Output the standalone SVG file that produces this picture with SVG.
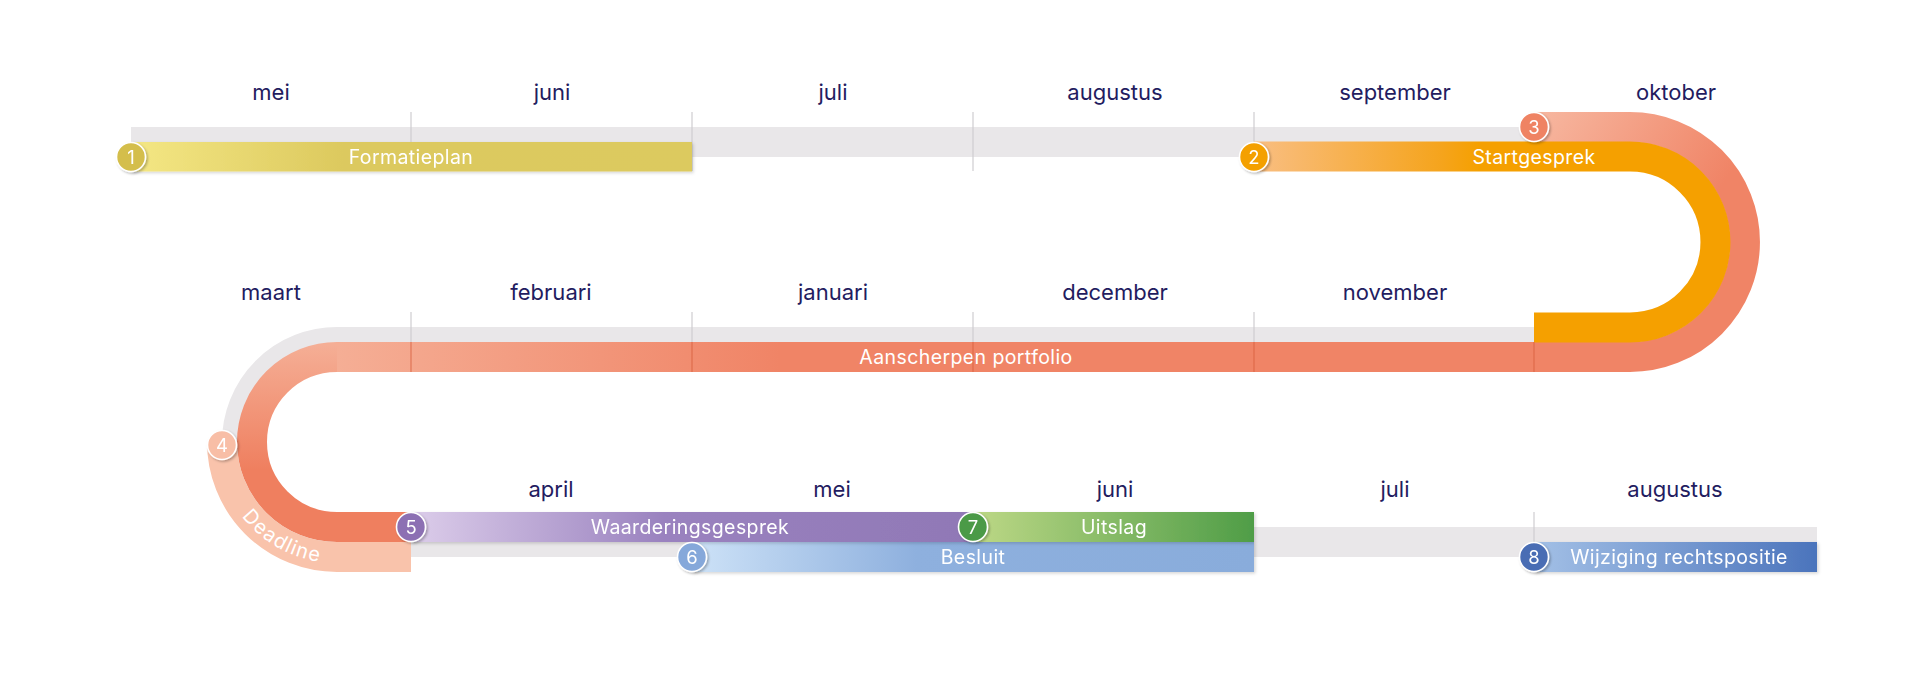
<svg xmlns="http://www.w3.org/2000/svg" width="1920" height="679" viewBox="0 0 1920 679">
<style>
.month{font-family:Inter,"Noto Sans","Liberation Sans",sans-serif;font-size:22px;fill:#231c5f;text-anchor:middle}
.lbl{font-family:Inter,"Noto Sans","Liberation Sans",sans-serif;font-size:19.5px;letter-spacing:0.4px;fill:#ffffff;text-anchor:middle}
.num{font-family:Inter,"Noto Sans","Liberation Sans",sans-serif;font-size:18.5px;fill:#ffffff;text-anchor:middle}
.tick{stroke:#cfcdd0;stroke-width:1.2}
.tickr{stroke:#d9603f;stroke-width:1.2;opacity:.7}
.band{fill:none;stroke-width:30;stroke-linecap:butt}
.dot{stroke:#ffffff;stroke-width:1.6}
</style>
<defs>
<filter id="sh" x="-10%" y="-50%" width="120%" height="200%">
<feDropShadow dx="1.5" dy="1.5" stdDeviation="1.5" flood-color="#000" flood-opacity="0.16"/>
</filter>
<filter id="csh" x="-50%" y="-50%" width="200%" height="200%">
<feDropShadow dx="1.5" dy="1.5" stdDeviation="1.2" flood-color="#000" flood-opacity="0.28"/>
</filter>
<linearGradient id="gYellow" gradientUnits="userSpaceOnUse" x1="131" y1="0" x2="692" y2="0">
<stop offset="0" stop-color="#f4e784"/><stop offset="0.38" stop-color="#dcc95e"/><stop offset="1" stop-color="#dcca5f"/>
</linearGradient>
<linearGradient id="gOrange" gradientUnits="userSpaceOnUse" x1="1254" y1="0" x2="1630" y2="0">
<stop offset="0" stop-color="#f9be82"/><stop offset="0.5" stop-color="#f5a41c"/><stop offset="0.6" stop-color="#f5a000"/><stop offset="1" stop-color="#f5a000"/>
</linearGradient>
<linearGradient id="gRedTop" gradientUnits="userSpaceOnUse" x1="1534" y1="112" x2="1700" y2="220">
<stop offset="0" stop-color="#f7b8a1"/><stop offset="1" stop-color="#f08466"/>
</linearGradient>
<linearGradient id="gRedMid" gradientUnits="userSpaceOnUse" x1="337" y1="0" x2="780" y2="0">
<stop offset="0" stop-color="#f5ae95"/><stop offset="1" stop-color="#f08466"/>
</linearGradient>
<linearGradient id="gRedLeft" gradientUnits="userSpaceOnUse" x1="0" y1="345" x2="0" y2="470">
<stop offset="0" stop-color="#f5ae95"/><stop offset="1" stop-color="#ef7f5f"/>
</linearGradient>
<linearGradient id="gPurple" gradientUnits="userSpaceOnUse" x1="411" y1="0" x2="973" y2="0">
<stop offset="0" stop-color="#dccdea"/><stop offset="0.45" stop-color="#9a82bf"/><stop offset="1" stop-color="#9078b6"/>
</linearGradient>
<linearGradient id="gGreen" gradientUnits="userSpaceOnUse" x1="973" y1="0" x2="1254" y2="0">
<stop offset="0" stop-color="#bdd886"/><stop offset="1" stop-color="#4f9d47"/>
</linearGradient>
<linearGradient id="gBlue1" gradientUnits="userSpaceOnUse" x1="692" y1="0" x2="1254" y2="0">
<stop offset="0" stop-color="#cde2f7"/><stop offset="0.4" stop-color="#8eb0de"/><stop offset="1" stop-color="#89acdb"/>
</linearGradient>
<linearGradient id="gBlue2" gradientUnits="userSpaceOnUse" x1="1534" y1="0" x2="1817" y2="0">
<stop offset="0" stop-color="#a3c0e6"/><stop offset="1" stop-color="#4b74bc"/>
</linearGradient>
<path id="deadlinePath" d="M216.5,452.5 A121,121 0 0 0 347.5,562.5"/>
</defs>

<rect width="1920" height="679" fill="#ffffff"/>

<g id="months">
<text class="month" x="271" y="100">mei</text>
<text class="month" x="552" y="100">juni</text>
<text class="month" x="833" y="100">juli</text>
<text class="month" x="1115" y="100">augustus</text>
<text class="month" x="1395" y="100">september</text>
<text class="month" x="1676" y="100">oktober</text>
<text class="month" x="271" y="300">maart</text>
<text class="month" x="551" y="300">februari</text>
<text class="month" x="833" y="300">januari</text>
<text class="month" x="1115" y="300">december</text>
<text class="month" x="1395" y="300">november</text>
<text class="month" x="551" y="497">april</text>
<text class="month" x="832" y="497">mei</text>
<text class="month" x="1115" y="497">juni</text>
<text class="month" x="1395" y="497">juli</text>
<text class="month" x="1675" y="497">augustus</text>
</g>

<g id="connectors">
<path id="track" class="band" stroke="#e9e7e9" d="M131,142 H1630 A100,100 0 0 1 1630,342 H337 A100,100 0 0 0 337,542 H1817"/>
<g id="ticks">
<line class="tick" x1="411" y1="112" x2="411" y2="171"/>
<line class="tick" x1="692" y1="112" x2="692" y2="171"/>
<line class="tick" x1="973" y1="112" x2="973" y2="171"/>
<line class="tick" x1="1254" y1="112" x2="1254" y2="171"/>
<line class="tick" x1="411" y1="312" x2="411" y2="342"/>
<line class="tick" x1="692" y1="312" x2="692" y2="342"/>
<line class="tick" x1="973" y1="312" x2="973" y2="342"/>
<line class="tick" x1="1254" y1="312" x2="1254" y2="342"/>
<line class="tick" x1="1534" y1="512" x2="1534" y2="572"/>
</g>
</g>

<g id="phase-formatieplan" filter="url(#sh)">
<rect x="131" y="142" width="561" height="29.5" fill="url(#gYellow)"/>
<text class="lbl" x="411" y="163.5">Formatieplan</text>
</g>

<g id="phase-aanscherpen">
<path class="band" stroke="url(#gRedTop)" d="M1534,127 H1630 A115,115 0 0 1 1630,357 H1629"/>
<path class="band" stroke="url(#gRedMid)" d="M1631,357 H336"/>
<path class="band" stroke="url(#gRedLeft)" d="M337,357 A85,85 0 0 0 337,527 H411"/>
<text class="lbl" x="966" y="363.5">Aanscherpen portfolio</text>
</g>

<g id="phase-startgesprek">
<path class="band" stroke="url(#gOrange)" d="M1254,156.5 H1630 A85.5,85.5 0 0 1 1630,327.5 H1534"/>
<text class="lbl" x="1534" y="163.5">Startgesprek</text>
</g>

<g id="ticks-red">
<line class="tickr" x1="411" y1="342" x2="411" y2="372"/>
<line class="tickr" x1="692" y1="342" x2="692" y2="372"/>
<line class="tickr" x1="973" y1="342" x2="973" y2="372"/>
<line class="tickr" x1="1254" y1="342" x2="1254" y2="372"/>
<line class="tickr" x1="1534" y1="342" x2="1534" y2="372"/>
</g>

<g id="phase-deadline">
<path class="band" stroke="#f9c3ab" d="M222,442 A115,115 0 0 0 337,557 H411"/>
<text class="lbl" style="font-size:20px;letter-spacing:1.2px"><textPath href="#deadlinePath" startOffset="116">Deadline</textPath></text>
</g>

<g id="phase-besluit" filter="url(#sh)">
<rect x="692" y="542" width="562" height="30" fill="url(#gBlue1)"/>
<text class="lbl" x="973" y="563.5">Besluit</text>
</g>

<g id="phase-waarderingsgesprek" filter="url(#sh)">
<rect x="411" y="512" width="562" height="30" fill="url(#gPurple)"/>
<text class="lbl" x="690" y="533.5">Waarderingsgesprek</text>
</g>

<g id="phase-uitslag" filter="url(#sh)">
<rect x="973" y="512" width="281" height="30" fill="url(#gGreen)"/>
<text class="lbl" x="1114" y="533.5">Uitslag</text>
</g>

<g id="phase-wijziging" filter="url(#sh)">
<rect x="1534" y="542" width="283" height="30" fill="url(#gBlue2)"/>
<text class="lbl" x="1679" y="563.5">Wijziging rechtspositie</text>
</g>

<g id="step-1" filter="url(#csh)"><circle class="dot" cx="131" cy="157" r="14.5" fill="#d4be4c"/><text class="num" x="131" y="163.5">1</text></g>
<g id="step-2" filter="url(#csh)"><circle class="dot" cx="1254" cy="157" r="14.5" fill="#f4a000"/><text class="num" x="1254" y="163.5">2</text></g>
<g id="step-3" filter="url(#csh)"><circle class="dot" cx="1534" cy="127" r="14.5" fill="#ef8363"/><text class="num" x="1534" y="133.5">3</text></g>
<g id="step-4" filter="url(#csh)"><circle class="dot" cx="222" cy="445" r="14.5" fill="#f8bea6"/><text class="num" x="222" y="451.5">4</text></g>
<g id="step-5" filter="url(#csh)"><circle class="dot" cx="411" cy="527" r="14.5" fill="#8c70b3"/><text class="num" x="411" y="533.5">5</text></g>
<g id="step-6" filter="url(#csh)"><circle class="dot" cx="692" cy="557" r="14.5" fill="#85a8da"/><text class="num" x="692" y="563.5">6</text></g>
<g id="step-7" filter="url(#csh)"><circle class="dot" cx="973" cy="527" r="14.5" fill="#4b9a46"/><text class="num" x="973" y="533.5">7</text></g>
<g id="step-8" filter="url(#csh)"><circle class="dot" cx="1534" cy="557" r="14.5" fill="#4a6db4"/><text class="num" x="1534" y="563.5">8</text></g>
</svg>
